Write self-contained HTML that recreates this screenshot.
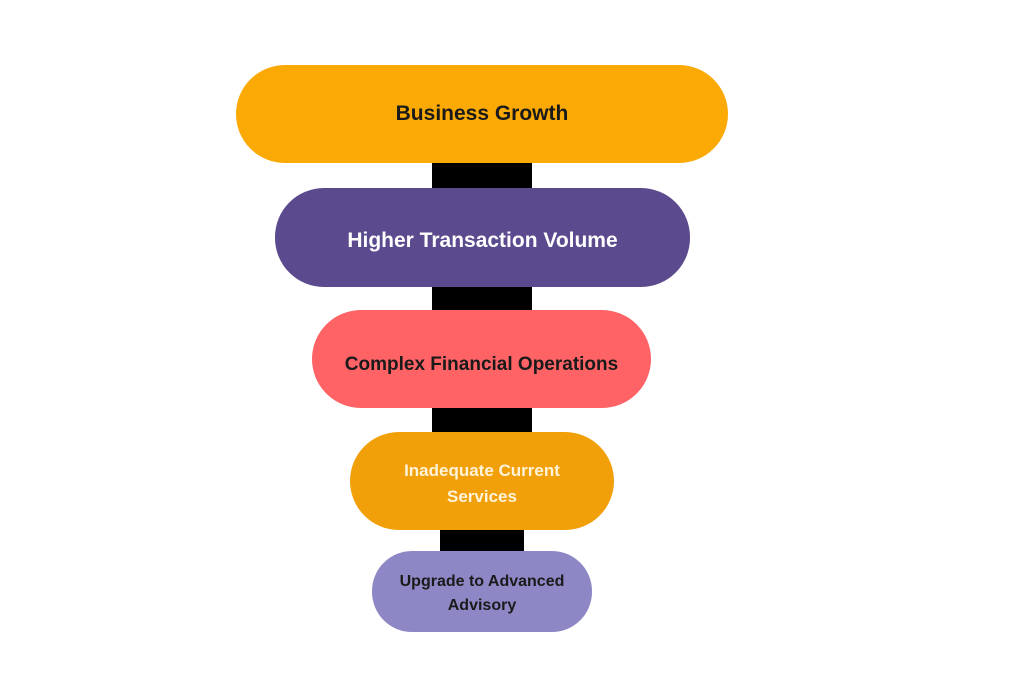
<!DOCTYPE html>
<html><head><style>
body{margin:0;width:1024px;height:683px;background:#fff;position:relative;overflow:hidden;font-family:"Liberation Sans",sans-serif;font-weight:bold}
.p{position:absolute;display:flex;align-items:center;justify-content:center;text-align:center;box-sizing:border-box}
.c{position:absolute;background:#000}
</style></head><body>
<div class="c" style="left:432px;top:160px;width:100px;height:32px"></div>
<div class="c" style="left:432px;top:283px;width:100px;height:31px"></div>
<div class="c" style="left:432px;top:404px;width:100px;height:32px"></div>
<div class="c" style="left:440px;top:526px;width:84px;height:30px"></div>
<div class="p" style="left:236px;top:65px;width:492px;height:98px;border-radius:49px;background:#FBA905;color:#1a1a1a;font-size:21px">Business Growth</div>
<div class="p" style="left:275px;top:188px;width:415px;height:99px;border-radius:49px;background:#5B4A8E;color:#fff;font-size:21px;padding-top:6px">Higher Transaction Volume</div>
<div class="p" style="left:312px;top:310px;width:339px;height:98px;border-radius:49px;background:#FF6366;color:#1a1a1a;font-size:19px;padding-top:12px">Complex Financial Operations</div>
<div class="p" style="left:350px;top:432px;width:264px;height:98px;border-radius:49px;background:#F2A00A;color:#FFF3D9;font-size:17px;line-height:26px;padding-top:6px">Inadequate Current<br>Services</div>
<div class="p" style="left:372px;top:551px;width:220px;height:81px;border-radius:40px;background:#8E87C5;color:#1a1a1a;font-size:16px;line-height:24px;padding-top:4px">Upgrade to Advanced<br>Advisory</div>
</body></html>
